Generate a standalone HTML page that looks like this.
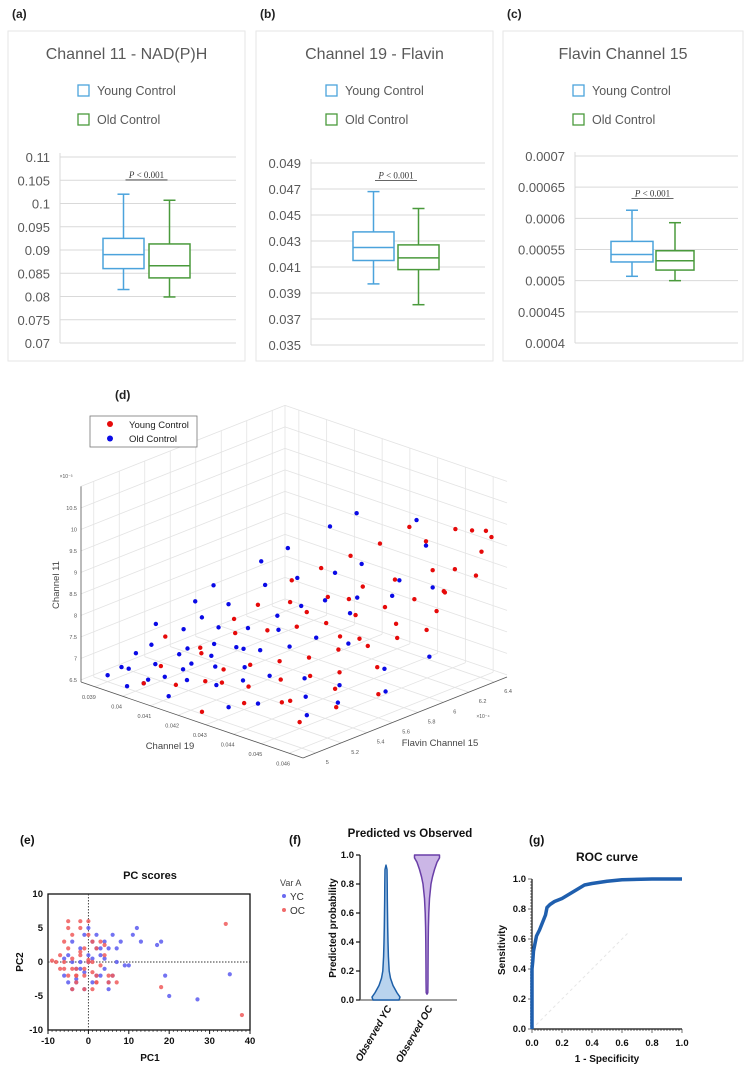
<!DOCTYPE html>
<html><head><meta charset="utf-8">
<style>
html,body{margin:0;padding:0;background:#fff;overflow:hidden;}
svg{display:block;font-family:"Liberation Sans",Arial,sans-serif;}
</style></head>
<body>
<svg id="fig" width="756" height="1070" viewBox="0 0 756 1070" xmlns="http://www.w3.org/2000/svg">
<g id="topPanels"></g>
<g id="d3"></g>
<g id="pe"></g>
<g id="pf"></g>
<g id="pg"></g>
</svg>
<script>
// ---------- box plot data ----------
const boxPanelTitles = ["Channel 11 - NAD(P)H","Channel 19 - Flavin","Flavin Channel 15"];
const boxPanelLetters = ["(a)","(b)","(c)"];
const tickLabelsA = ["0.07","0.075","0.08","0.085","0.09","0.095","0.1","0.105","0.11"];
const tickLabelsB = ["0.035","0.037","0.039","0.041","0.043","0.045","0.047","0.049"];
const tickLabelsC = ["0.0004","0.00045","0.0005","0.00055","0.0006","0.00065","0.0007"];
// [min, q1, median, q3, max]
const youngA = [0.0815,0.086,0.089,0.0925,0.102];
const oldA   = [0.0799,0.084,0.0866,0.0913,0.1007];
const youngB = [0.0397,0.0415,0.0425,0.0437,0.0468];
const oldB   = [0.0381,0.0408,0.0417,0.0427,0.0455];
const youngC = [0.000507,0.000530,0.000542,0.000563,0.000613];
const oldC   = [0.000500,0.000517,0.000532,0.000548,0.000593];

// ---------- 3D scatter data: [channel19 x1e-3, flavin15 x1e-4, channel11 x1e-2] ----------
const oldControl3d = [[39.0,5.0,6.6],[39.3,5.1,6.7],[39.5,5.0,6.9],[39.8,5.2,6.8],[39.2,5.3,7.0],[40.0,5.1,6.6],[40.3,5.0,6.7],[40.5,5.3,7.2],[40.1,5.5,7.6],[40.8,5.2,6.9],[41.0,5.4,7.3],[40.6,5.6,7.9],[41.2,5.0,6.6],[41.5,5.3,7.0],[41.3,5.6,7.5],[41.8,5.4,7.4],[41.0,5.8,8.2],[42.0,5.2,6.8],[42.2,5.5,7.3],[42.5,5.3,6.9],[41.7,5.9,8.4],[42.3,5.8,8.0],[42.8,5.6,7.4],[43.0,5.4,7.0],[42.6,6.0,8.6],[43.3,5.7,7.6],[43.5,5.2,6.7],[43.8,5.5,7.0],[43.1,6.1,8.8],[44.0,5.8,7.5],[44.3,5.4,6.8],[44.6,5.6,6.9],[44.0,6.2,8.5],[45.0,5.5,6.7],[45.3,5.8,7.2],[44.5,6.3,9.3],[43.7,6.4,9.6],[40.4,5.9,8.5],[39.6,5.7,8.0],[40.9,6.0,8.8],[41.5,6.2,9.2],[42.0,6.3,9.5],[39.9,5.4,7.4],[40.7,5.5,7.5],[41.9,5.7,7.8],[42.7,5.9,8.1],[43.4,6.0,8.2],[40.2,5.3,7.0],[41.4,5.1,6.9],[42.9,5.1,6.6],[44.8,5.3,6.6],[45.8,5.7,6.9],[46.0,6.0,7.4],[38.9,5.4,7.3],[39.4,5.6,7.7],[41.1,5.2,7.1],[42.4,5.6,7.7],[43.6,5.9,8.0],[44.2,6.1,8.3],[45.2,6.2,8.6],[39.1,5.2,6.9],[40.6,5.1,6.8],[41.6,5.5,7.2],[42.1,5.4,7.0],[39.7,5.0,6.5],[40.9,5.4,7.0]];
const youngControl3d = [[40.0,5.2,6.8],[40.5,5.4,7.1],[41.0,5.1,6.7],[41.3,5.5,7.5],[41.8,5.3,7.0],[42.0,5.6,7.6],[42.3,5.4,7.1],[42.6,5.7,7.7],[42.9,5.5,7.2],[43.2,5.8,7.8],[43.5,5.6,7.3],[43.8,5.9,8.0],[44.1,5.7,7.5],[44.4,6.0,8.2],[44.7,5.8,7.6],[45.0,6.1,8.4],[45.3,5.9,7.8],[45.6,6.2,8.6],[45.9,6.0,8.0],[41.5,5.9,8.3],[42.1,6.0,8.6],[42.7,6.1,8.9],[43.3,6.2,9.2],[43.9,6.3,9.6],[44.5,6.3,9.4],[45.1,6.4,9.7],[45.7,6.4,9.8],[46.2,6.4,9.9],[44.2,5.3,6.8],[44.9,5.5,7.0],[45.4,5.4,6.8],[46.0,5.6,7.0],[43.0,5.2,6.6],[42.4,5.0,6.5],[41.6,5.2,6.8],[40.8,5.6,7.6],[41.9,5.8,8.0],[42.8,5.9,8.2],[43.6,6.0,8.5],[44.3,6.1,8.7],[45.2,6.2,9.0],[46.0,6.2,9.2],[46.3,6.3,9.0],[43.4,5.4,7.0],[42.2,5.2,6.9],[44.6,5.6,7.2],[45.5,5.7,7.4],[40.3,5.0,6.7],[39.7,5.3,7.3],[41.2,5.7,7.9],[43.1,6.0,8.1],[44.0,5.5,7.1],[44.8,6.0,7.9],[45.8,6.1,8.3],[42.5,5.8,7.9],[43.7,5.8,7.6],[41.0,5.3,7.2],[46.4,6.4,9.8],[46.5,6.3,9.6],[46.1,6.1,8.8],[43.9,5.3,6.7],[45.0,5.2,6.6],[42.7,5.3,6.8],[44.4,5.8,7.7]];
const ch19Ticks = ["0.039","0.04","0.041","0.042","0.043","0.044","0.045","0.046"];
const flTicks = ["5","5.2","5.4","5.6","5.8","6","6.2","6.4"];
const ch11Ticks = ["6.5","7","7.5","8","8.5","9","9.5","10","10.5"];

// ---------- PC scores ----------
const ycPC1 = [-6,-5,-4,-3,-2,-1,0,1,2,3,4,5,6,-3,-1,1,3,5,7,8,-4,-2,0,2,4,6,9,11,13,17,18,19,20,27,35,12,-5,-3,-1,1,3,-2,0,2,4,-6,-4,5,7,10];
const ycPC2 = [-2,1,3,-1,2,4,0,3,-2,1,-1,2,4,-3,-4,-3,-2,-4,2,3,0,-1,1,2,3,-2,-0.5,4,3,2.5,3,-2,-5,-5.5,-1.8,5,-3,-2.5,-1.5,0.5,2,0,5,4,0.5,0.5,-4,-3,0,-0.5];
const ocPC1 = [-8,-7,-6,-5,-4,-3,-2,-1,0,1,2,3,4,5,-6,-5,-4,-3,-2,-1,0,1,2,-7,-5,-3,-1,1,3,-4,-2,0,2,4,6,-6,-4,-2,0,2,5,7,-3,-1,1,18,34,38,-9,-5];
const ocPC2 = [0,1,-1,2,0.5,-1,1.5,-2,0.3,-1.5,2,-0.5,1,-2,3,-2,4,-3,5,-4,6,3,-3,-1,6,-2,2,-4,3,-4,1,0,-2,2.5,-2,0,-1,6,4,-3,-3,-3,-2,-1,0,-3.7,5.6,-7.8,0.2,5];
const pcXTicks = [-10,0,10,20,30,40];
const pcYTicks = [-10,-5,0,5,10];

// ---------- violin ----------
const violinLevels = [0,0.02,0.05,0.1,0.15,0.2,0.3,0.4,0.5,0.6,0.7,0.8,0.85,0.9,0.95,0.98,1.0];
const ycDensity = [13,14,11,7,4.5,3.2,2.4,2,1.7,1.5,1.3,1.2,1.1,1,0,0,0];
const ocDensity = [0,0,0.8,0.9,1,1,1.1,1.2,1.4,1.8,2.5,4,5.5,7.5,10,12.5,12.5];
const ycExtent = [0,0.93];
const ocExtent = [0.04,1.0];
const probTicks = ["0.0","0.2","0.4","0.6","0.8","1.0"];

// ---------- ROC ----------
const rocFPR = [0,0,0.005,0.01,0.02,0.03,0.05,0.07,0.09,0.1,0.12,0.15,0.2,0.25,0.3,0.35,0.4,0.5,0.6,0.8,1];
const rocTPR = [0,0.4,0.45,0.52,0.57,0.62,0.66,0.71,0.76,0.81,0.83,0.85,0.87,0.9,0.93,0.96,0.97,0.985,0.995,1,1];
const rocTicks = ["0.0","0.2","0.4","0.6","0.8","1.0"];

const NS="http://www.w3.org/2000/svg";
function mk(parent, tag, attrs, text){
  const e=document.createElementNS(NS,tag);
  for(const k in attrs) e.setAttribute(k,attrs[k]);
  if(text!==undefined) e.textContent=text;
  parent.appendChild(e); return e;
}

// ===== Top box plot panels =====
const topG=document.getElementById('topPanels');
const panels=[
 {fx:8,fw:237,gl:60,gr:236,yTop:157,yBot:343,ticks:tickLabelsA,lo:0.07,hi:0.11,y:youngA,o:oldA,yc:[103,144],oc:[149,190],pv:0.1055},
 {fx:256,fw:237,gl:311,gr:485,yTop:163,yBot:345,ticks:tickLabelsB,lo:0.035,hi:0.049,y:youngB,o:oldB,yc:[353,394],oc:[398,439],pv:0.0478},
 {fx:503,fw:240,gl:575,gr:738,yTop:156,yBot:343,ticks:tickLabelsC,lo:0.0004,hi:0.0007,y:youngC,o:oldC,yc:[611,653],oc:[656,694],pv:0.000635}
];
panels.forEach((p,i)=>{
  const g=mk(topG,'g',{});
  
  
  const lab=mk(g,'text',{x:p.fx+4,y:18,'font-size':12,'font-weight':'bold',fill:'#222'},boxPanelLetters[i]);
  
  
  const fr=mk(g,'rect',{x:p.fx,y:31,width:p.fw,height:330,fill:'#fff',stroke:'#e6e6e6'});
  
  
  const cx=p.fx+p.fw/2;
  const t=mk(g,'text',{x:cx,y:59,'font-size':16,fill:'#595959','text-anchor':'middle'},boxPanelTitles[i]);
  
  
  [['Young Control','#4ba3dc',91],['Old Control','#4a9a3c',120]].forEach(([n,c,yy])=>{
    const r=mk(g,'rect',{x:p.fx+70,y:yy-6,width:11,height:11,fill:'none',stroke:c,'stroke-width':1.3});
    
    
    const tx=mk(g,'text',{x:p.fx+89,y:yy+4,'font-size':12.5,fill:'#595959'},n);
    
    
  });
  const ys=v=>p.yBot-(v-p.lo)/(p.hi-p.lo)*(p.yBot-p.yTop);
  const n=p.ticks.length;
  for(let k=0;k<n;k++){
    const v=p.lo+(p.hi-p.lo)*k/(n-1);
    const yy=ys(v);
    const gl=mk(g,'line',{x1:p.gl,x2:p.gr,y1:yy,y2:yy,stroke:'#d9d9d9','stroke-width':1});
    
    
    const tl=mk(g,'text',{x:p.gl-10,y:yy+5,'font-size':13,fill:'#595959','text-anchor':'end'},p.ticks[k]);
    
    
  }
  const ax=mk(g,'line',{x1:p.gl,x2:p.gl,y1:p.yTop-4,y2:p.yBot,stroke:'#d9d9d9'});
  
  
  [[p.y,p.yc,'#4ba3dc','young'],[p.o,p.oc,'#4a9a3c','old']].forEach(([d,xr,c,nm])=>{
    const bg=mk(g,'g',{stroke:c,'stroke-width':1.5,fill:'none'});
    
    
    const m=(xr[0]+xr[1])/2;
    mk(bg,'line',{x1:m,x2:m,y1:ys(d[4]),y2:ys(d[3])});
    mk(bg,'line',{x1:m,x2:m,y1:ys(d[1]),y2:ys(d[0])});
    mk(bg,'line',{x1:m-6,x2:m+6,y1:ys(d[4]),y2:ys(d[4])});
    mk(bg,'line',{x1:m-6,x2:m+6,y1:ys(d[0]),y2:ys(d[0])});
    mk(bg,'rect',{x:xr[0],y:ys(d[3]),width:xr[1]-xr[0],height:ys(d[1])-ys(d[3]),fill:'#fff'});
    mk(bg,'line',{x1:xr[0],x2:xr[1],y1:ys(d[2]),y2:ys(d[2])});
  });
  const pm=(p.yc[0]+p.oc[1])/2, py=ys(p.pv);
  const pt=mk(g,'text',{x:pm,y:py,'font-size':9,fill:'#333','text-anchor':'middle','font-family':'Liberation Serif, serif'});
  
  
  mk(pt,'tspan',{'font-style':'italic'},'P');
  mk(pt,'tspan',{},' < 0.001');
  const ul=mk(g,'line',{x1:pm-21,x2:pm+21,y1:py+2,y2:py+2,stroke:'#333','stroke-width':0.8});
  
  
});

// ===== 3D scatter =====
const d3=document.getElementById('d3');
const L={x:81,y:682}, V19={x:222,y:76}, VFL={x:204,y:-81}, ZPX=43;
const c19lo=38.5,c19hi=46.5,fllo=4.9,flhi=6.5,zlo=6.45,zhi=11.0;
function proj(a,b,c){
  const t=(a-c19lo)/(c19hi-c19lo), f=(b-fllo)/(flhi-fllo);
  return {x:L.x+V19.x*t+VFL.x*f, y:L.y+V19.y*t+VFL.y*f-ZPX*(c-zlo)};
}
const gridG=mk(d3,'g',{stroke:'#e3e3e3','stroke-width':0.8});


function ln(p,q){mk(gridG,'line',{x1:p.x,y1:p.y,x2:q.x,y2:q.y});}
ch19Ticks.forEach(s=>{const a=parseFloat(s)*1000;
  ln(proj(a,fllo,zlo),proj(a,flhi,zlo)); ln(proj(a,flhi,zlo),proj(a,flhi,zhi));});
flTicks.forEach(s=>{const b=parseFloat(s);
  ln(proj(c19lo,b,zlo),proj(c19hi,b,zlo)); ln(proj(c19lo,b,zlo),proj(c19lo,b,zhi));});
ch11Ticks.forEach(s=>{const c=parseFloat(s);
  ln(proj(c19lo,fllo,c),proj(c19lo,flhi,c)); ln(proj(c19lo,flhi,c),proj(c19hi,flhi,c));});
ln(proj(c19lo,flhi,zlo),proj(c19lo,flhi,zhi));
ln(proj(c19lo,fllo,zhi),proj(c19lo,flhi,zhi)); ln(proj(c19lo,flhi,zhi),proj(c19hi,flhi,zhi));
const axG=mk(d3,'g',{stroke:'#555','stroke-width':0.8});


[[proj(c19lo,fllo,zlo),proj(c19lo,fllo,zhi)],[proj(c19lo,fllo,zlo),proj(c19hi,fllo,zlo)],[proj(c19hi,fllo,zlo),proj(c19hi,flhi,zlo)]].forEach(([p,q])=>mk(axG,'line',{x1:p.x,y1:p.y,x2:q.x,y2:q.y}));
ch11Ticks.forEach(s=>{const p=proj(c19lo,fllo,parseFloat(s));
  const t=mk(d3,'text',{x:p.x-4,y:p.y+2,'font-size':5.5,fill:'#555','text-anchor':'end'},s);
  
  });
ch19Ticks.forEach(s=>{const p=proj(parseFloat(s)*1000,fllo,zlo);
  const t=mk(d3,'text',{x:p.x-6,y:p.y+12,'font-size':5.5,fill:'#555','text-anchor':'middle'},s);
  
  });
flTicks.forEach(s=>{const p=proj(c19hi,parseFloat(s),zlo);
  const t=mk(d3,'text',{x:p.x+10,y:p.y+11,'font-size':5.5,fill:'#555'},s);
  
  });
[[oldControl3d,'#0a0ae6','old'],[youngControl3d,'#e60a0a','young']].forEach(([arr,c,nm])=>{
  const sg=mk(d3,'g',{fill:c});
  
  
  arr.forEach(d=>{const p=proj(d[0],d[1],d[2]);
    const pt=mk(sg,'circle',{cx:p.x,cy:p.y,r:2.2});
    
    });
});
(function(){
  const t=[['(d)',115,399,12,'bold','#222','start'],['Channel 19',170,749,9.5,'normal','#444','middle'],['Flavin Channel 15',440,746,9.5,'normal','#444','middle'],['×10⁻³',66,478,5,'normal','#555','middle'],['×10⁻⁴',483,718,5,'normal','#555','middle']];
  t.forEach(([s,x,y,fs,fw,c,a])=>{const e=mk(d3,'text',{x:x,y:y,'font-size':fs,'font-weight':fw,fill:c,'text-anchor':a},s);
    
    });
  const e=mk(d3,'text',{x:0,y:0,'font-size':9.5,fill:'#444','text-anchor':'middle',transform:'translate(59,585) rotate(-90)'},'Channel 11');
  
  
  const lg=mk(d3,'g',{});
  
  
  mk(lg,'rect',{x:90,y:416,width:107,height:31,fill:'#fff',stroke:'#777','stroke-width':0.8});
  mk(lg,'circle',{cx:110,cy:424,r:3,fill:'#e60a0a'});
  mk(lg,'circle',{cx:110,cy:438.5,r:3,fill:'#0a0ae6'});
  const a=mk(lg,'text',{x:129,y:428,'font-size':9.5,fill:'#222'},'Young Control');
  
  
  const b=mk(lg,'text',{x:129,y:442,'font-size':9.5,fill:'#222'},'Old Control');
  
  
})();

// ===== (e) PC scores =====
const pe=document.getElementById('pe');
const ex=v=>48+(v+10)/50*202, ey=v=>1030-(v+10)/20*136;
function txt(par,s,x,y,fs,extra,name){const e=mk(par,'text',Object.assign({x:x,y:y,'font-size':fs,fill:'#111','font-weight':'bold'},extra||{}),s);
  
  return e;}
txt(pe,'(e)',20,844,12,{},'panel-label');
txt(pe,'PC scores',150,879,11,{'text-anchor':'middle'},'chart-title');
txt(pe,'PC1',150,1061,10,{'text-anchor':'middle'},'x-axis-title');
txt(pe,'PC2',0,0,10,{'text-anchor':'middle',transform:'translate(23,962) rotate(-90)'},'y-axis-title');
const peAx=mk(pe,'rect',{x:ex(-10),y:ey(10),width:ex(40)-ex(-10),height:ey(-10)-ey(10),fill:'none',stroke:'#111','stroke-width':1.3});


const dz=mk(pe,'g',{stroke:'#333','stroke-width':0.9,'stroke-dasharray':'1.5,1.5'});


mk(dz,'line',{x1:ex(0),x2:ex(0),y1:ey(10),y2:ey(-10)});
mk(dz,'line',{x1:ex(-10),x2:ex(40),y1:ey(0),y2:ey(0)});
pcXTicks.forEach(v=>{txt(pe,String(v),ex(v),1044,9.5,{'text-anchor':'middle'},'x-tick-label');
  mk(pe,'line',{x1:ex(v),x2:ex(v),y1:ey(-10),y2:ey(-10)+4,stroke:'#111'});});
for(let v=-10;v<=40;v+=1){mk(pe,'line',{x1:ex(v),x2:ex(v),y1:ey(-10),y2:ey(-10)+2,stroke:'#111','stroke-width':0.6});}
pcYTicks.forEach(v=>{txt(pe,String(v),43,ey(v)+3,9.5,{'text-anchor':'end'},'y-tick-label');});
[[ycPC1,ycPC2,'#5a5af0','yc'],[ocPC1,ocPC2,'#f05a5a','oc']].forEach(([xs,ys2,c,nm])=>{
  const g=mk(pe,'g',{fill:c,'fill-opacity':0.85});
  
  
  xs.forEach((v,i)=>{const p=mk(g,'circle',{cx:ex(v),cy:ey(ys2[i]),r:2.1});
    
    });
});
txt(pe,'Var A',280,886,9,{'font-weight':'normal',fill:'#444'},'legend-title');
mk(pe,'circle',{cx:284,cy:896,r:2,fill:'#6a6af0'});
mk(pe,'circle',{cx:284,cy:910,r:2,fill:'#f06a6a'});
txt(pe,'YC',290,900,10,{'font-weight':'normal',fill:'#333'},'legend-entry');
txt(pe,'OC',290,914,10,{'font-weight':'normal',fill:'#333'},'legend-entry');

// ===== (f) violin =====
const pf=document.getElementById('pf');
const fy=v=>1000-v*145;
txt(pf,'(f)',289,844,12,{},'panel-label');
txt(pf,'Predicted vs Observed',410,837,11.5,{'text-anchor':'middle'},'chart-title');
txt(pf,'Predicted probability',0,0,10,{'text-anchor':'middle',transform:'translate(336,928) rotate(-90)'},'y-axis-title');
const fax=mk(pf,'g',{stroke:'#111','stroke-width':1.2});


mk(fax,'line',{x1:360,x2:360,y1:fy(1),y2:fy(0)});
mk(fax,'line',{x1:360,x2:457,y1:fy(0),y2:fy(0),stroke:'#666'});
probTicks.forEach(s=>{const v=parseFloat(s);
  mk(fax,'line',{x1:356,x2:360,y1:fy(v),y2:fy(v)});
  txt(pf,s,354,fy(v)+3,9.5,{'text-anchor':'end'},'y-tick-label');});
function violin(cx,dens,ext,fill,stroke,nm){
  const pts=[];
  violinLevels.forEach((l,i)=>{if(l>=ext[0]-1e-9&&l<=ext[1]+1e-9)pts.push([l,dens[i]]);});
  if(pts[pts.length-1][0]<ext[1])pts.push([ext[1],0]);
  if(pts[0][0]>ext[0])pts.unshift([ext[0],0]);
  let d='M'+cx+','+fy(pts[0][0]);
  pts.forEach(p=>d+=' L'+(cx+p[1])+','+fy(p[0]));
  for(let i=pts.length-1;i>=0;i--)d+=' L'+(cx-pts[i][1])+','+fy(pts[i][0]);
  d+='Z';
  const e=mk(pf,'path',{d:d,fill:fill,stroke:stroke,'stroke-width':1.5,'stroke-linejoin':'round'});
  
  
}
violin(386,ycDensity,ycExtent,'#b9d3ee','#1d5fa8','observed-yc');
violin(427,ocDensity,ocExtent,'#cbb6e6','#6a3fa8','observed-oc');
txt(pf,'Observed YC',0,0,10,{'text-anchor':'end','font-style':'italic',transform:'translate(392,1008) rotate(-60)'},'x-tick-label');
txt(pf,'Observed OC',0,0,10,{'text-anchor':'end','font-style':'italic',transform:'translate(433,1008) rotate(-60)'},'x-tick-label');

// ===== (g) ROC =====
const pg=document.getElementById('pg');
const gx=v=>532+v*150, gy=v=>1029-v*150;
txt(pg,'(g)',529,844,12,{},'panel-label');
txt(pg,'ROC curve',607,861,12,{'text-anchor':'middle'},'chart-title');
txt(pg,'1 - Specificity',607,1062,10,{'text-anchor':'middle'},'x-axis-title');
txt(pg,'Sensitivity',0,0,10,{'text-anchor':'middle',transform:'translate(505,950) rotate(-90)'},'y-axis-title');
const gax=mk(pg,'g',{stroke:'#111','stroke-width':1.2});


mk(gax,'line',{x1:gx(0),x2:gx(0),y1:gy(1),y2:gy(0)});
mk(gax,'line',{x1:gx(0),x2:gx(1),y1:gy(0),y2:gy(0)});
for(let k=0;k<=50;k++){const v=k/50;mk(gax,'line',{x1:gx(v),x2:gx(v),y1:gy(0),y2:gy(0)+(k%10==0?4:2),'stroke-width':0.6});
  mk(gax,'line',{x1:gx(0)-(k%10==0?4:2),x2:gx(0),y1:gy(v),y2:gy(v),'stroke-width':0.6});}
rocTicks.forEach(s=>{const v=parseFloat(s);
  txt(pg,s,gx(0)-6,gy(v)+3,9.5,{'text-anchor':'end'},'y-tick-label');
  txt(pg,s,gx(v),1046,9.5,{'text-anchor':'middle'},'x-tick-label');});
const diag=mk(pg,'line',{x1:gx(0),y1:gy(0),x2:gx(0.65),y2:gy(0.65),stroke:'#e6e6e6','stroke-width':1,'stroke-dasharray':'3,3'});


let rd='';
rocFPR.forEach((v,i)=>rd+=(i?' L':'M')+gx(v)+','+gy(rocTPR[i]));
const roc=mk(pg,'path',{d:rd,fill:'none',stroke:'#1f5fae','stroke-width':3.5,'stroke-linejoin':'round'});


</script>
</body></html>
